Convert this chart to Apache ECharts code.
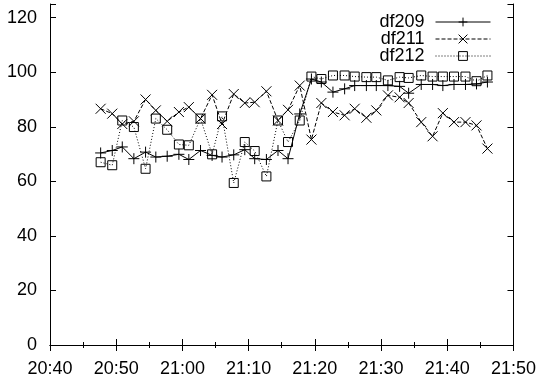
<!DOCTYPE html>
<html>
<head>
<meta charset="utf-8">
<script src="https://cdn.jsdelivr.net/npm/echarts@6/dist/echarts.min.js"></script>
<style>html,body{margin:0;padding:0;background:#fff}#c{width:539px;height:381px}</style>
</head>
<body>
<div id="c"></div>
<script>
// Sample times
const times = ["20:47:39","20:49:24","20:50:55","20:52:40","20:54:26","20:55:59","20:57:42","20:59:28",
  "21:00:58","21:02:44","21:04:29","21:05:59","21:07:45","21:09:25","21:10:55","21:12:41","21:14:26",
  "21:15:57","21:17:43","21:19:29","21:20:59","21:22:44","21:24:30","21:26:01","21:27:47","21:29:17",
  "21:31:02","21:32:48","21:34:10","21:36:04","21:37:47","21:39:20","21:41:01","21:42:45","21:44:25","21:46:04"];
const df209 = [70.4,71.3,72.6,68.3,70.7,68.9,69.2,69.9,68.0,71.3,69.5,68.9,69.7,71.6,68.3,68.0,71.3,68.3,
  84.7,97.5,96.4,92.7,93.9,95.1,95.1,95.1,95.1,94.8,92.3,95.5,95.5,95.1,95.5,95.5,95.7,96.4];
const df211 = [86.6,84.8,81.0,82.0,90.0,86.0,82.0,85.4,87.2,83.0,91.7,81.0,92.0,88.7,89.0,93.0,82.3,86.2,
  95.1,75.3,88.7,85.4,84.2,86.6,83.3,86.0,91.5,90.8,88.7,81.7,76.5,85.0,81.7,81.7,80.5,72.0];
const df212 = [67.0,65.9,82.3,79.9,64.6,83.0,78.9,73.5,73.2,83.0,69.9,83.8,59.4,74.4,71.1,61.8,82.3,74.4,
  82.3,98.4,97.5,98.8,98.8,98.4,98.2,98.2,97.0,98.2,97.9,98.8,98.4,98.4,98.4,98.4,96.7,98.8];
const seriesNames = ["df209","df211","df212"];
const xTickStart = "20:40", xTickEnd = "21:50";
const yTicks = [0,20,40,60,80,100,120];

function toMin(s){const p=s.split(':').map(Number);return p[0]*60+p[1]+(p[2]||0)/60;}
function fmt(v){const h=Math.floor(v/60),m=Math.round(v-h*60);return h+':'+(m<10?'0':'')+m;}
const xs = times.map(toMin);
const pairs = arr => arr.map((v,i)=>[xs[i],v]);

const FONT = 'Liberation Sans, Arial, sans-serif';
const ink = '#000';
const xMin = toMin(xTickStart), xMax = toMin(xTickEnd);

const baseX = {type:'value',min:xMin,max:xMax,interval:10,
  axisLine:{show:true,lineStyle:{color:ink,width:1}},
  axisTick:{show:true,inside:true,length:6,lineStyle:{color:ink}},
  minorTick:{show:true,splitNumber:2,length:3,lineStyle:{color:ink}},
  splitLine:{show:false}};
const baseY = {type:'value',min:0,max:125,interval:20,
  axisLine:{show:true,lineStyle:{color:ink,width:1}},
  axisTick:{show:true,inside:true,length:6,lineStyle:{color:ink}},
  splitLine:{show:false}};

const mk = (name,data,sym,size,dash) => ({
  name, type:'line', data:pairs(data), symbol:sym, symbolSize:size, xAxisIndex:0, yAxisIndex:0,
  showAllSymbol:true, animation:false,
  lineStyle:{color:ink,width:1,type:dash},
  itemStyle:{color:'rgba(0,0,0,0)',borderColor:ink,borderWidth:1}
});

const legendTops = [8, 25, 42];
const legends = seriesNames.map((n,i)=>({
  orient:'vertical', right:43, top:legendTops[i], align:'right',
  itemWidth:55, itemHeight:11, itemGap:0,
  lineStyle:{width:1,color:ink},
  itemStyle:{borderWidth:1,borderColor:ink},
  textStyle:{fontFamily:FONT,fontSize:18,color:ink,padding:[0,6,0,0]},
  data:[n]
}));

const chart = echarts.init(document.getElementById('c'),null,{renderer:'canvas'});
chart.setOption({
  animation:false,
  backgroundColor:'#fff',
  grid:{left:50,right:25,top:4,bottom:36},
  xAxis:[
    Object.assign({},baseX,{position:'bottom',axisLabel:{show:true,margin:15,color:ink,fontFamily:FONT,fontSize:18,formatter:fmt}}),
    Object.assign({},baseX,{position:'top',axisLabel:{show:false}})
  ],
  yAxis:[
    Object.assign({},baseY,{position:'left',axisLabel:{show:true,margin:13,color:ink,fontFamily:FONT,fontSize:18,
      formatter:v=>yTicks.indexOf(v)>=0?String(v):''}}),
    Object.assign({},baseY,{position:'right',axisLabel:{show:false}})
  ],
  legend:legends,
  series:[
    mk(seriesNames[0],df209,'path://M5,0L5,10M0,5L10,5',11,'solid'),
    mk(seriesNames[1],df211,'path://M0,0L10,10M10,0L0,10',10,[4,2]),
    mk(seriesNames[2],df212,'rect',9,[1,2])
  ]
});
</script>
</body>
</html>
